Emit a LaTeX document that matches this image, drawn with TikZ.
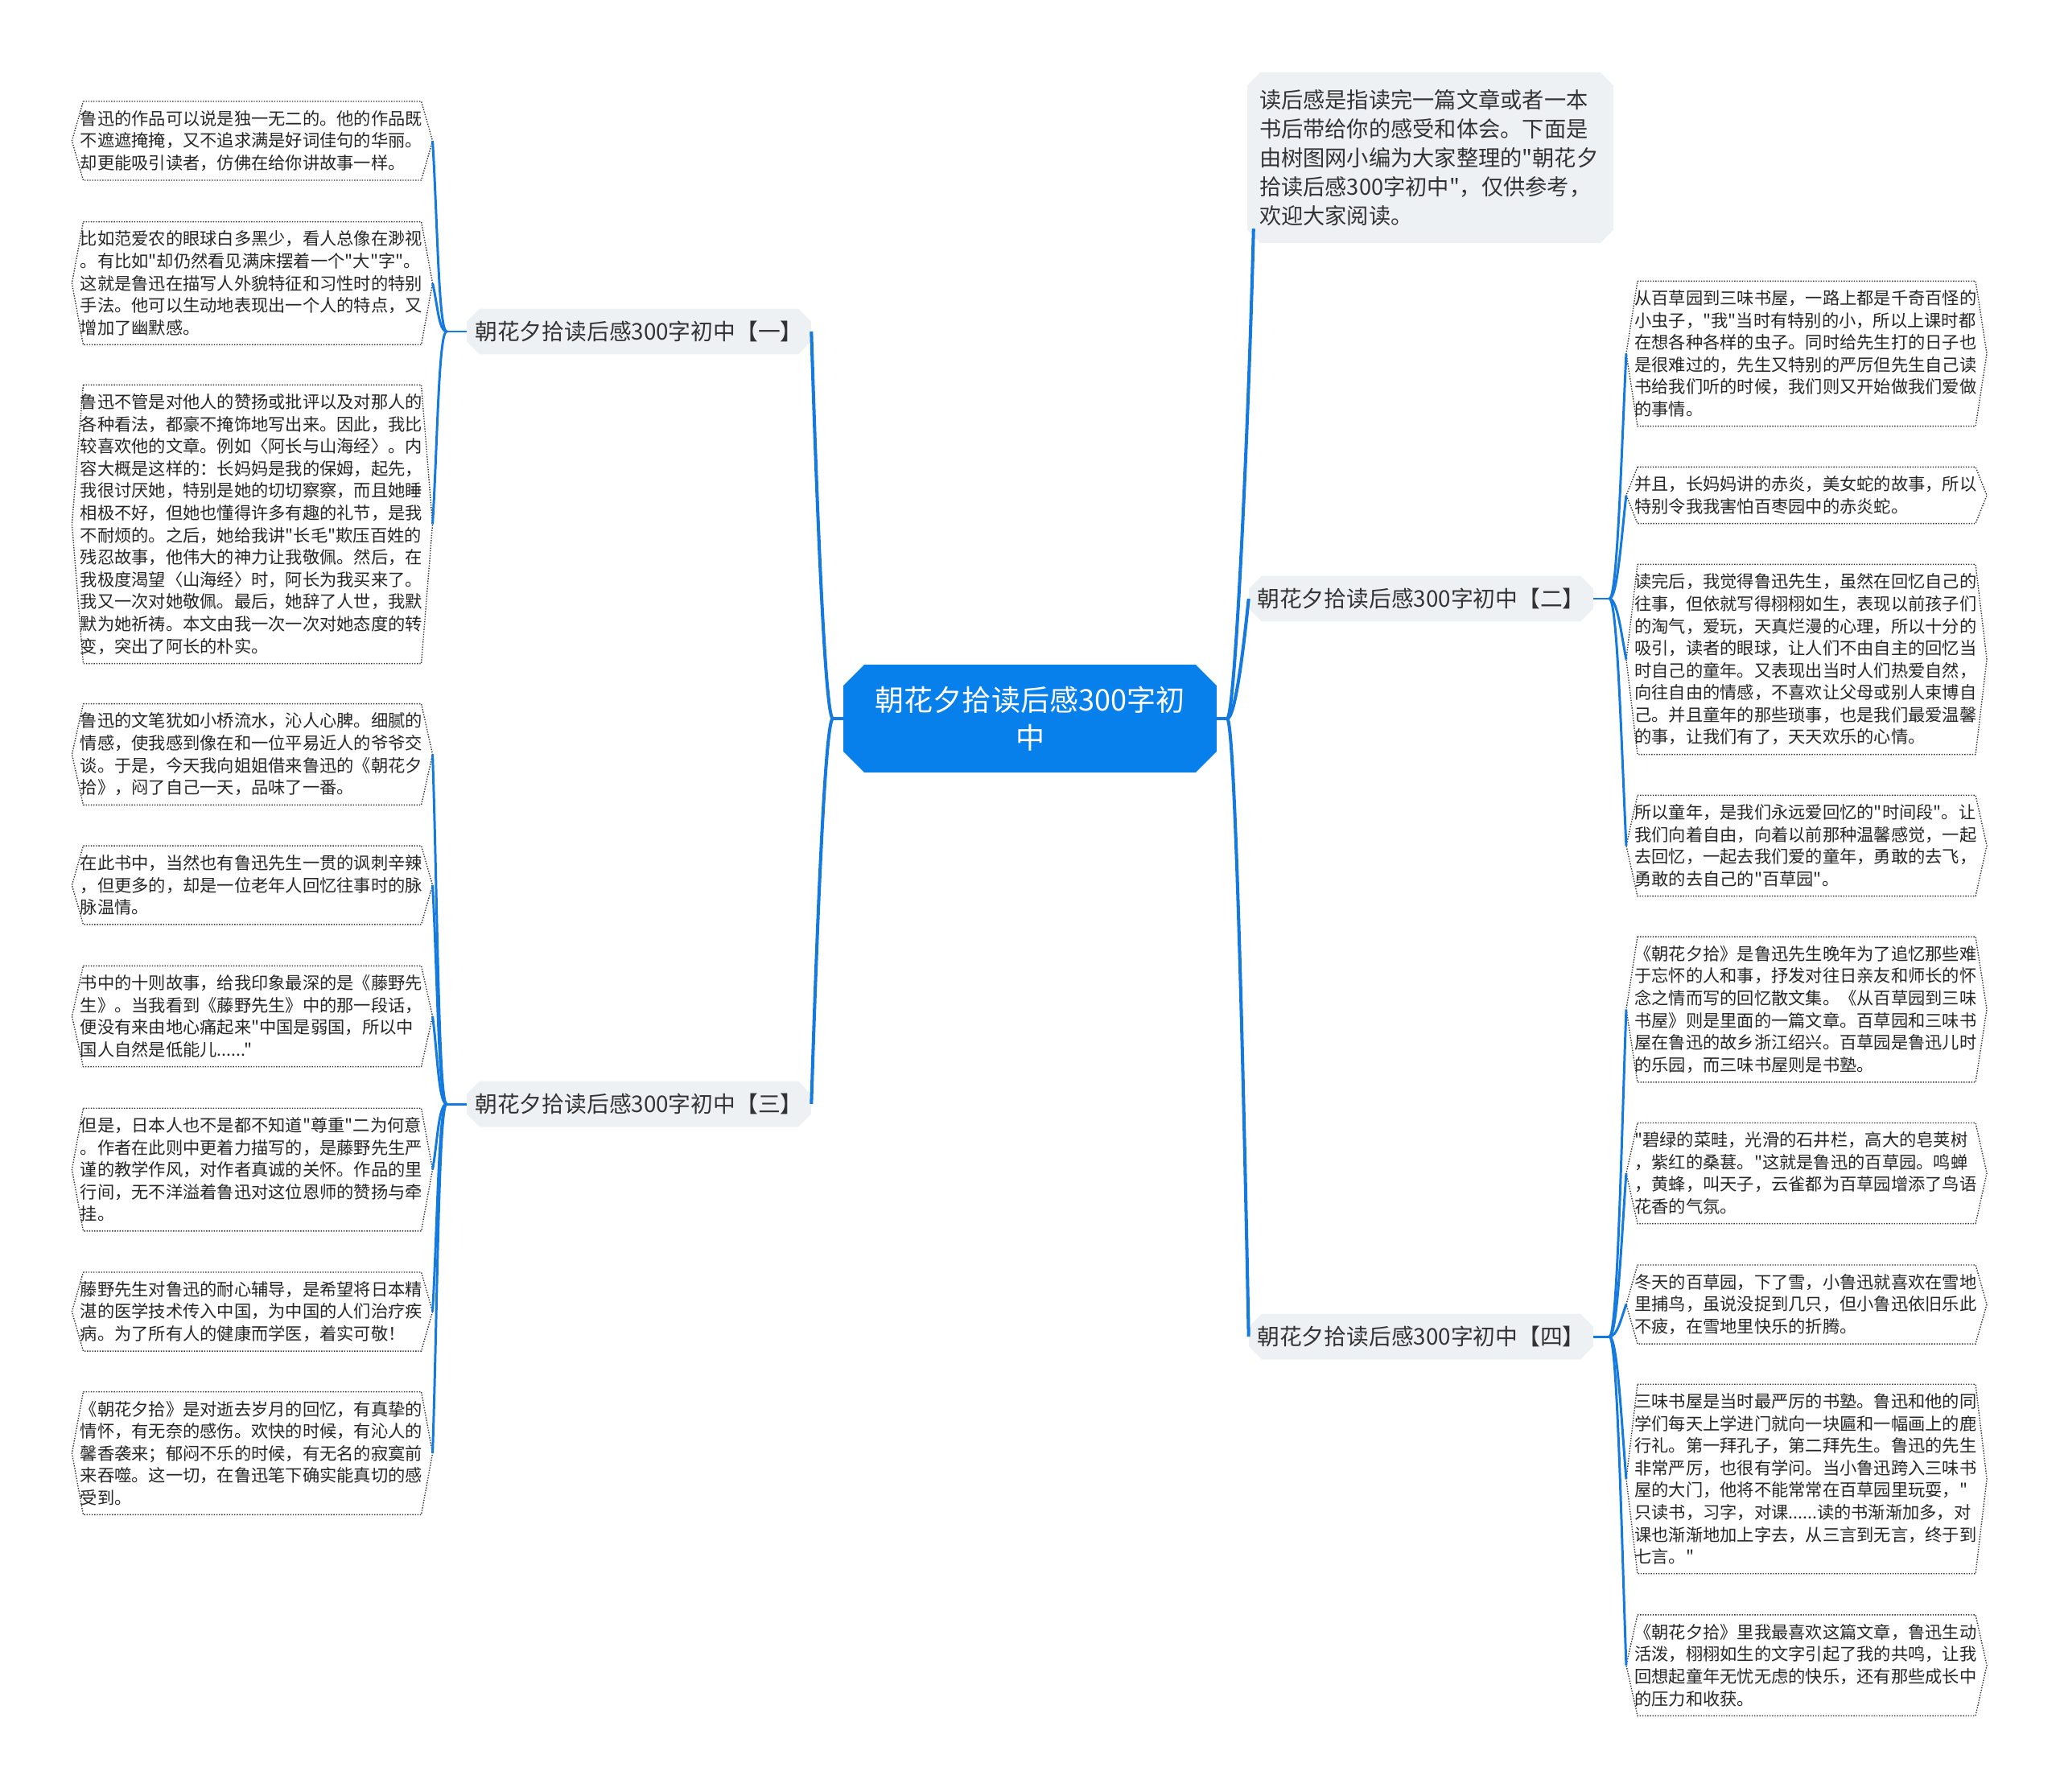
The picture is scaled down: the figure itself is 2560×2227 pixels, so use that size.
\documentclass[tikz,border=0pt]{standalone}
\usetikzlibrary{shapes.misc}
\font\rootfont="Noto Sans CJK SC" at 20.5pt
\font\topicfont="Noto Sans CJK SC" at 15.8pt
\font\notefont="Noto Sans CJK SC" at 15.5pt
\font\leaffont="Noto Sans CJK SC" at 12.1pt
\definecolor{linkblue}{RGB}{20,122,224}
\definecolor{rootblue}{RGB}{8,128,235}
\definecolor{topicgray}{RGB}{238,241,244}
\definecolor{inkgray}{RGB}{51,51,51}

\begin{document}
\begin{tikzpicture}[
    x=0.02cm, y=-0.02cm,
    root/.style={chamfered rectangle, chamfered rectangle sep=0.26cm,
                 fill=rootblue, inner sep=0pt, minimum width=9.28cm,
                 minimum height=2.68cm, align=center, text=white,
                 font={\rootfont\baselineskip=26.7pt}},
    topic/.style={chamfered rectangle, chamfered rectangle sep=0.16cm,
                  fill=topicgray, inner sep=0pt, minimum width=8.56cm,
                  minimum height=1.14cm, text=inkgray, font=\topicfont},
    note/.style={chamfered rectangle, chamfered rectangle sep=0.16cm,
                 fill=topicgray, text width=8.5cm, align=left,
                 inner xsep=0.14cm, inner ysep=0pt, minimum height=4.24cm,
                 text=inkgray, font={\notefont\baselineskip=20.4pt}},
    leaf/.style={text width=8.55cm, align=left, inner xsep=0.2cm,
                 inner ysep=0.22cm, text=black!85,
                 font={\leaffont\baselineskip=15.7pt}},
    rim/.style={densely dotted, draw=black!80, line width=0.8pt},
    trunk/.style={draw=linkblue, line width=2.3pt},
    twig/.style={draw=linkblue, line width=1.7pt}
]
  \useasboundingbox (0,0) rectangle (2560,2227);

  % Root and topics
  \node[root] (ctr) at (1280,893) {朝花夕拾读后感300字初\\中};
  \node[topic] (b1) at (794,412)  {朝花夕拾读后感300字初中【一】};
  \node[topic] (b3) at (794,1372) {朝花夕拾读后感300字初中【三】};
  \node[topic] (b2) at (1766,744)  {朝花夕拾读后感300字初中【二】};
  \node[topic] (b4) at (1766,1661) {朝花夕拾读后感300字初中【四】};
  \node[note] (intro) at (1777.5,196) {读后感是指读完一篇文章或者一本\\书后带给你的感受和体会。下面是\\由树图网小编为大家整理的"朝花夕\\拾读后感300字初中"，仅供参考，\\欢迎大家阅读。};

  % Left leaves, topic one
  \node[leaf] (l1) at (313.5,175) {鲁迅的作品可以说是独一无二的。他的作品既\\不遮遮掩掩，又不追求满是好词佳句的华丽。\\却更能吸引读者，仿佛在给你讲故事一样。};
  \node[leaf] (l2) at (313.5,352) {比如范爱农的眼球白多黑少，看人总像在渺视\\。有比如"却仍然看见满床摆着一个"大"字"。\\这就是鲁迅在描写人外貌特征和习性时的特别\\手法。他可以生动地表现出一个人的特点，又\\增加了幽默感。};
  \node[leaf] (l3) at (313.5,651.5) {鲁迅不管是对他人的赞扬或批评以及对那人的\\各种看法，都豪不掩饰地写出来。因此，我比\\较喜欢他的文章。例如〈阿长与山海经〉。内\\容大概是这样的：长妈妈是我的保姆，起先，\\我很讨厌她，特别是她的切切察察，而且她睡\\相极不好，但她也懂得许多有趣的礼节，是我\\不耐烦的。之后，她给我讲"长毛"欺压百姓的\\残忍故事，他伟大的神力让我敬佩。然后，在\\我极度渴望〈山海经〉时，阿长为我买来了。\\我又一次对她敬佩。最后，她辞了人世，我默\\默为她祈祷。本文由我一次一次对她态度的转\\变，突出了阿长的朴实。};

  % Left leaves, topic three
  \node[leaf] (l4) at (313.5,937.5) {鲁迅的文笔犹如小桥流水，沁人心脾。细腻的\\情感，使我感到像在和一位平易近人的爷爷交\\谈。于是，今天我向姐姐借来鲁迅的《朝花夕\\拾》，闷了自己一天，品味了一番。};
  \node[leaf] (l5) at (313.5,1100) {在此书中，当然也有鲁迅先生一贯的讽刺辛辣\\，但更多的，却是一位老年人回忆往事时的脉\\脉温情。};
  \node[leaf] (l6) at (313.5,1263) {书中的十则故事，给我印象最深的是《藤野先\\生》。当我看到《藤野先生》中的那一段话，\\便没有来由地心痛起来"中国是弱国，所以中\\国人自然是低能儿......"};
  \node[leaf] (l7) at (313.5,1453.5) {但是，日本人也不是都不知道"尊重"二为何意\\。作者在此则中更着力描写的，是藤野先生严\\谨的教学作风，对作者真诚的关怀。作品的里\\行间，无不洋溢着鲁迅对这位恩师的赞扬与牵\\挂。};
  \node[leaf] (l8) at (313.5,1630) {藤野先生对鲁迅的耐心辅导，是希望将日本精\\湛的医学技术传入中国，为中国的人们治疗疾\\病。为了所有人的健康而学医，着实可敬！};
  \node[leaf] (l9) at (313.5,1806) {《朝花夕拾》是对逝去岁月的回忆，有真挚的\\情怀，有无奈的感伤。欢快的时候，有沁人的\\馨香袭来；郁闷不乐的时候，有无名的寂寞前\\来吞噬。这一切，在鲁迅笔下确实能真切的感\\受到。};

  % Right leaves, topic two
  \node[leaf] (r1) at (2245,439.5) {从百草园到三味书屋，一路上都是千奇百怪的\\小虫子，"我"当时有特别的小，所以上课时都\\在想各种各样的虫子。同时给先生打的日子也\\是很难过的，先生又特别的严厉但先生自己读\\书给我们听的时候，我们则又开始做我们爱做\\的事情。};
  \node[leaf] (r2) at (2245,615.5) {并且，长妈妈讲的赤炎，美女蛇的故事，所以\\特别令我我害怕百枣园中的赤炎蛇。};
  \node[leaf] (r3) at (2245,819.5) {读完后，我觉得鲁迅先生，虽然在回忆自己的\\往事，但依就写得栩栩如生，表现以前孩子们\\的淘气，爱玩，天真烂漫的心理，所以十分的\\吸引，读者的眼球，让人们不由自主的回忆当\\时自己的童年。又表现出当时人们热爱自然，\\向往自由的情感，不喜欢让父母或别人束博自\\己。并且童年的那些琐事，也是我们最爱温馨\\的事，让我们有了，天天欢乐的心情。};
  \node[leaf] (r4) at (2245,1051) {所以童年，是我们永远爱回忆的"时间段"。让\\我们向着自由，向着以前那种温馨感觉，一起\\去回忆，一起去我们爱的童年，勇敢的去飞，\\勇敢的去自己的"百草园"。};

  % Right leaves, topic four
  \node[leaf] (r5) at (2245,1254.5) {《朝花夕拾》是鲁迅先生晚年为了追忆那些难\\于忘怀的人和事，抒发对往日亲友和师长的怀\\念之情而写的回忆散文集。《从百草园到三味\\书屋》则是里面的一篇文章。百草园和三味书\\屋在鲁迅的故乡浙江绍兴。百草园是鲁迅儿时\\的乐园，而三味书屋则是书塾。};
  \node[leaf] (r6) at (2245,1458) {"碧绿的菜畦，光滑的石井栏，高大的皂荚树\\，紫红的桑葚。"这就是鲁迅的百草园。鸣蝉\\，黄蜂，叫天子，云雀都为百草园增添了鸟语\\花香的气氛。};
  \node[leaf] (r7) at (2245,1621) {冬天的百草园，下了雪，小鲁迅就喜欢在雪地\\里捕鸟，虽说没捉到几只，但小鲁迅依旧乐此\\不疲，在雪地里快乐的折腾。};
  \node[leaf] (r8) at (2245,1838) {三味书屋是当时最严厉的书塾。鲁迅和他的同\\学们每天上学进门就向一块匾和一幅画上的鹿\\行礼。第一拜孔子，第二拜先生。鲁迅的先生\\非常严厉，也很有学问。当小鲁迅跨入三味书\\屋的大门，他将不能常常在百草园里玩耍，"\\只读书，习字，对课......读的书渐渐加多，对\\课也渐渐地加上字去，从三言到无言，终于到\\七言。"};
  \node[leaf] (r9) at (2245,2069.5) {《朝花夕拾》里我最喜欢这篇文章，鲁迅生动\\活泼，栩栩如生的文字引起了我的共鸣，让我\\回想起童年无忧无虑的快乐，还有那些成长中\\的压力和收获。};

  % Dotted hexagon rims
  \foreach \l in {l1,l2,l3,l4,l5,l6,l7,l8,l9,r1,r2,r3,r4,r5,r6,r7,r8,r9}
    \draw[rim] ([xshift=0.28cm]\l.north west) -- ([xshift=-0.28cm]\l.north east)
      -- (\l.east) -- ([xshift=-0.28cm]\l.south east)
      -- ([xshift=0.28cm]\l.south west) -- (\l.west) -- cycle;

  % Stubs
  \coordinate (cl) at (1035,893);
  \coordinate (cr) at (1525,893);
  \coordinate (j1) at (555,412);
  \coordinate (j3) at (555,1372);
  \coordinate (j2) at (2000,744);
  \coordinate (j4) at (2000,1661);
  \draw[trunk] (ctr.west) -- (cl);
  \draw[trunk] (ctr.east) -- (cr);
  \draw[twig] (b1.west) -- (j1);
  \draw[twig] (b3.west) -- (j3);
  \draw[twig] (b2.east) -- (j2);
  \draw[twig] (b4.east) -- (j4);

  % Root to topics
  \draw[trunk] (cl) .. controls +(-10,0) and +(6,192) .. (b1.east);
  \draw[trunk] (cl) .. controls +(-10,0) and +(6,-192) .. (b3.east);
  \draw[trunk] (cr) .. controls +(10,0) and +(-6,60) .. (b2.west);
  \draw[trunk] (cr) .. controls +(10,0) and +(-6,-307) .. (b4.west);
  \draw[trunk] (cr) .. controls +(10,0) and +(-6,240) .. ([yshift=0.2cm]intro.south west);

  % Topics to leaves
  \foreach \l/\h in {l1/95, l2/24, l3/-96}
    \draw[twig] (j1) .. controls +(-10,0) and +(6,\h) .. (\l.east);
  \foreach \l/\h in {l4/174, l5/109, l6/44, l7/-33, l8/-103, l9/-174}
    \draw[twig] (j3) .. controls +(-10,0) and +(6,\h) .. (\l.east);
  \foreach \l/\h in {r1/122, r2/51, r3/-30, r4/-123}
    \draw[twig] (j2) .. controls +(10,0) and +(-6,\h) .. (\l.west);
  \foreach \l/\h in {r5/163, r6/81, r7/16, r8/-71, r9/-163}
    \draw[twig] (j4) .. controls +(10,0) and +(-6,\h) .. (\l.west);
\end{tikzpicture}
\end{document}
